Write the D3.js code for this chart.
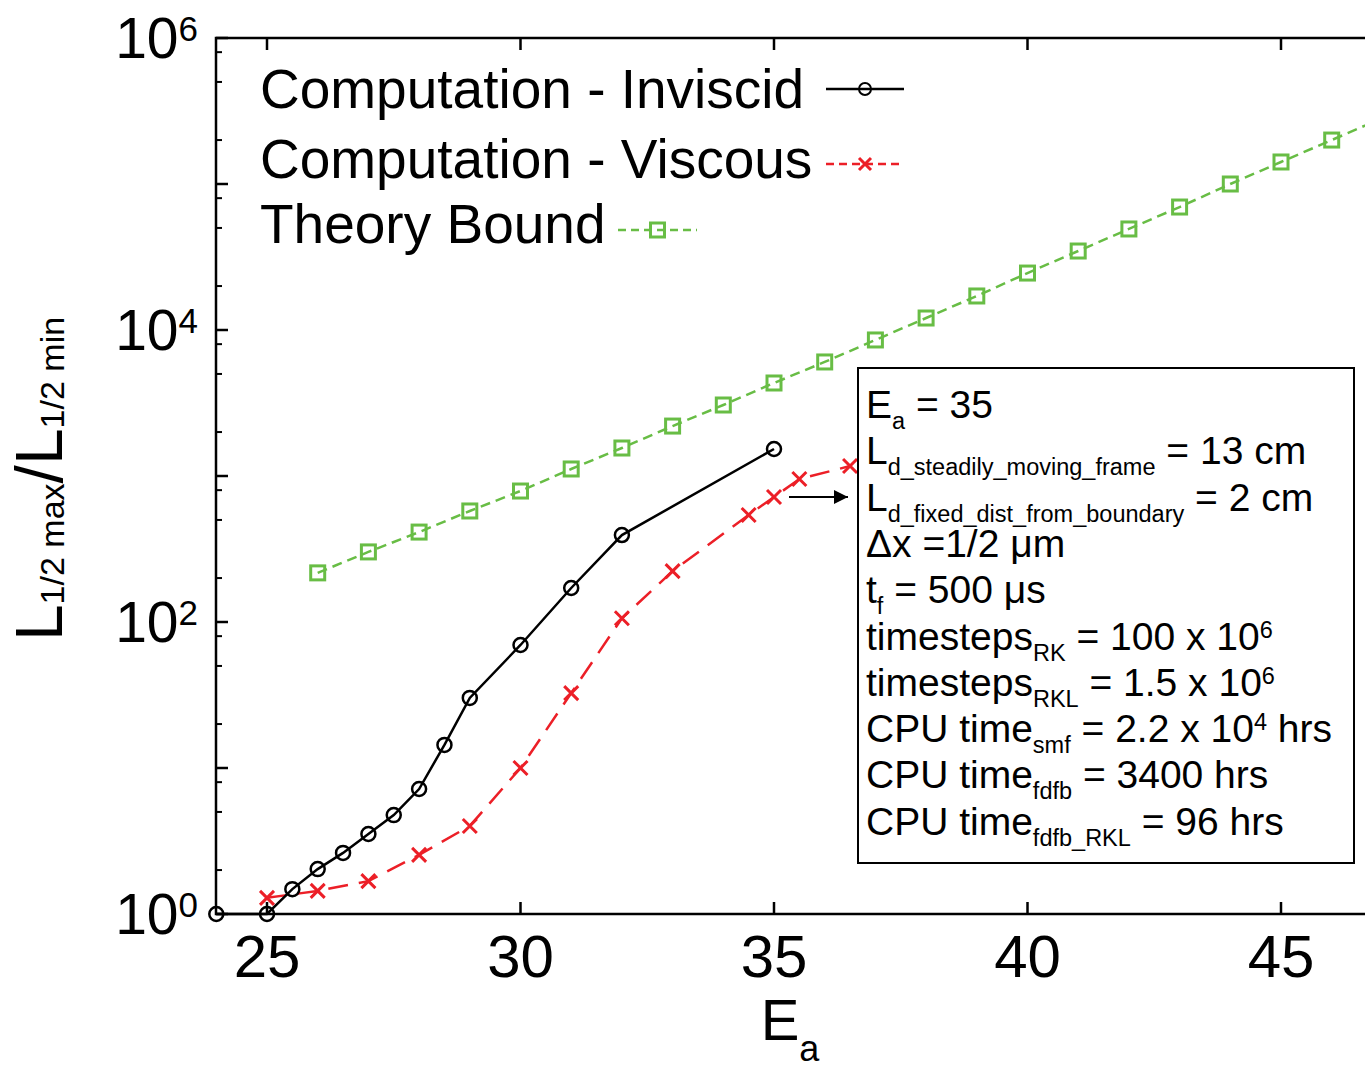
<!DOCTYPE html>
<html><head><meta charset="utf-8">
<script src="https://cdn.jsdelivr.net/npm/d3@7"></script>
<style>
body{margin:0;background:#fff}
svg{display:block}
text{font-family:"Liberation Sans",Arial,Helvetica,sans-serif;white-space:pre;fill:#000}
</style>
</head><body><svg id="c" width="1365" height="1068"></svg>
<script>
// ---------------- data ----------------
const xTickValues = [25, 30, 35, 40, 45];
const yLabelExponents = [0, 2, 4, 6];
const yMajorExponents = [0, 1, 2, 3, 4, 5, 6];
const yMinorMantissas = [2, 5, 8];

const inviscidE     = [24, 25, 25.5, 26, 26.5, 27, 27.5, 28, 28.5, 29, 30, 31, 32, 35];
const inviscidRatio = [1, 1, 1.48, 2.03, 2.62, 3.53, 4.76, 7.18, 14.4, 30.2, 69.6, 171, 394, 1531];

const viscousE      = [25, 26, 27, 28, 29, 30, 31, 32, 33, 34.5, 35, 35.5, 36.5];
const viscousRatio  = [1.29, 1.44, 1.68, 2.54, 4.01, 10, 32.6, 106, 223, 541, 718, 953, 1170];

const theoryE       = [26, 27, 28, 29, 30, 31, 32, 33, 34, 35, 36, 37, 38, 39, 40, 41, 42, 43, 44, 45, 46, 47];
const theoryRatio   = [217, 302, 413, 576, 789, 1117, 1555, 2198, 3064, 4335, 6040, 8545, 12080, 17100,
                       24550, 34750, 49200, 69550, 100000, 141500, 200000, 283000];

const seriesNames = ["Computation - Inviscid", "Computation - Viscous", "Theory Bound"];

const infoLines = [
  [["E", ""], ["a", "sub"], [" = 35", ""]],
  [["L", ""], ["d_steadily_moving_frame", "sub"], [" = 13 cm", ""]],
  [["L", ""], ["d_fixed_dist_from_boundary", "sub"], [" = 2 cm", ""]],
  [["\u0394x =1/2 \u03bcm", ""]],
  [["t", ""], ["f", "sub"], [" = 500 \u03bcs", ""]],
  [["timesteps", ""], ["RK", "sub"], [" = 100 x 10", ""], ["6", "sup"]],
  [["timesteps", ""], ["RKL", "sub"], [" = 1.5 x 10", ""], ["6", "sup"]],
  [["CPU time", ""], ["smf", "sub"], [" = 2.2 x 10", ""], ["4", "sup"], [" hrs", ""]],
  [["CPU time", ""], ["fdfb", "sub"], [" = 3400 hrs", ""]],
  [["CPU time", ""], ["fdfb_RKL", "sub"], [" = 96 hrs", ""]]
];

// ---------------- helpers ----------------
function richText(t, parts, sizes, shifts) {
  let cur = 0;
  parts.forEach(([txt, mode]) => {
    const k = mode || "n";
    const ts = t.append("tspan").text(txt).attr("dy", shifts[k] - cur);
    if (sizes[k]) ts.attr("font-size", sizes[k]);
    cur = shifts[k];
  });
}

// ---------------- layout ----------------
const svg = d3.select("#c");
const pLeft = 216, pTop = 38, pBottom = 914, pRight = 1366;
const x = d3.scaleLinear().domain([24, 45]).range([216.3, 1281]);
const y = d3.scaleLog().domain([1, 1e6]).range([pBottom, pTop]);

const RED = "#ec1f27", GREEN = "#68bd45";

const defs = svg.append("defs");
defs.append("clipPath").attr("id", "plotclip")
  .append("rect").attr("x", pLeft - 10).attr("y", pTop).attr("width", pRight - pLeft + 10).attr("height", pBottom - pTop + 10);

// ---------------- axes ----------------
const axes = svg.append("g").attr("stroke", "#000").attr("stroke-width", 2.5).attr("fill", "none");
axes.append("path").attr("d", `M${pRight},${pTop}H${pLeft}V${pBottom}H${pRight}`);

xTickValues.forEach(v => {
  axes.append("line").attr("x1", x(v)).attr("x2", x(v)).attr("y1", pBottom).attr("y2", pBottom - 12);
  axes.append("line").attr("x1", x(v)).attr("x2", x(v)).attr("y1", pTop).attr("y2", pTop + 12);
});
yMajorExponents.forEach(e => {
  const yy = y(Math.pow(10, e));
  axes.append("line").attr("x1", pLeft).attr("x2", pLeft + 12).attr("y1", yy).attr("y2", yy);
  if (e < 6) yMinorMantissas.forEach(m => {
    const ym = y(m * Math.pow(10, e));
    axes.append("line").attr("x1", pLeft).attr("x2", pLeft + 6).attr("y1", ym).attr("y2", ym)
      .attr("stroke-width", 2);
  });
});

svg.append("g").selectAll("text").data(xTickValues).join("text")
  .attr("x", d => x(d)).attr("y", 977).attr("text-anchor", "middle")
  .attr("font-size", 60).text(d => d);

yLabelExponents.forEach(e => {
  const yy = y(Math.pow(10, e));
  const t = svg.append("text").attr("x", 198).attr("y", yy + 20).attr("text-anchor", "end").attr("font-size", 57);
  richText(t, [["10", ""], [String(e), "sup"]], {sup: 35}, {n: 0, sup: -17});
});

{
  const t = svg.append("text").attr("x", 790).attr("y", 1040).attr("text-anchor", "middle").attr("font-size", 58);
  richText(t, [["E", ""], ["a", "sub"]], {sub: 36}, {n: 0, sub: 21});
}
{
  const t = svg.append("text").attr("transform", "translate(62,479) rotate(-90)")
    .attr("text-anchor", "middle").attr("font-size", 66);
  richText(t, [["L", ""], ["1/2 max", "sub"], ["/L", ""], ["1/2 min", "sub"]], {sub: 34}, {n: 0, sub: 2});
}

// ---------------- series ----------------
const line = d3.line().x(d => x(d[0])).y(d => y(d[1]));
const inv = inviscidE.map((e, i) => [e, inviscidRatio[i]]);
const vis = viscousE.map((e, i) => [e, viscousRatio[i]]);
const the = theoryE.map((e, i) => [e, theoryRatio[i]]);

const plot = svg.append("g").attr("clip-path", "url(#plotclip)");

plot.append("path").attr("d", line(the)).attr("fill", "none").attr("stroke", GREEN)
  .attr("stroke-width", 2.5).attr("stroke-dasharray", "10,6");
plot.append("path").attr("d", line(vis)).attr("fill", "none").attr("stroke", RED)
  .attr("stroke-width", 2.5).attr("stroke-dasharray", "20,11");
plot.append("path").attr("d", line(inv)).attr("fill", "none").attr("stroke", "#000")
  .attr("stroke-width", 2.5);

function square(g, cx, cy, h, col, sw) {
  g.append("rect").attr("x", cx - h).attr("y", cy - h).attr("width", 2 * h).attr("height", 2 * h)
    .attr("fill", "none").attr("stroke", col).attr("stroke-width", sw);
}
function cross(g, cx, cy, h, col, sw) {
  g.append("path").attr("d", `M${cx - h},${cy - h}L${cx + h},${cy + h}M${cx - h},${cy + h}L${cx + h},${cy - h}`)
    .attr("stroke", col).attr("stroke-width", sw).attr("fill", "none");
}
function circ(g, cx, cy, r, sw) {
  g.append("circle").attr("cx", cx).attr("cy", cy).attr("r", r)
    .attr("fill", "none").attr("stroke", "#000").attr("stroke-width", sw);
}
the.forEach(d => { if (x(d[0]) < pRight) square(plot, x(d[0]), y(d[1]), 7, GREEN, 3); });
vis.forEach(d => cross(svg, x(d[0]), y(d[1]), 7, RED, 3));
inv.forEach(d => circ(svg, x(d[0]), y(d[1]), 7, 2.5));

// ---------------- legend ----------------
const legRows = [
  {name: seriesNames[0], base: 108, ly: 89, x0: 826, x1: 904, kind: "inv"},
  {name: seriesNames[1], base: 178, ly: 164, x0: 826, x1: 904, kind: "vis"},
  {name: seriesNames[2], base: 243, ly: 230, x0: 618, x1: 697, kind: "the"}
];
legRows.forEach(r => {
  svg.append("text").attr("x", 260).attr("y", r.base).attr("font-size", 55).text(r.name);
  const mid = (r.x0 + r.x1) / 2;
  if (r.kind === "inv") {
    svg.append("line").attr("x1", r.x0).attr("x2", r.x1).attr("y1", r.ly).attr("y2", r.ly)
      .attr("stroke", "#000").attr("stroke-width", 2.5);
    circ(svg, mid, r.ly, 6, 2);
  } else if (r.kind === "vis") {
    svg.append("line").attr("x1", r.x0).attr("x2", r.x1).attr("y1", r.ly).attr("y2", r.ly)
      .attr("stroke", RED).attr("stroke-width", 2.5).attr("stroke-dasharray", "8,5");
    cross(svg, mid, r.ly, 6, RED, 3);
  } else {
    svg.append("line").attr("x1", r.x0).attr("x2", r.x1).attr("y1", r.ly).attr("y2", r.ly)
      .attr("stroke", GREEN).attr("stroke-width", 2.5).attr("stroke-dasharray", "8,5");
    square(svg, mid, r.ly, 7, GREEN, 3);
  }
});

// ---------------- arrow ----------------
defs.append("marker").attr("id", "ah").attr("viewBox", "0 0 10 10")
  .attr("refX", 10).attr("refY", 5).attr("markerWidth", 16).attr("markerHeight", 14)
  .attr("markerUnits", "userSpaceOnUse").attr("orient", "auto")
  .append("path").attr("d", "M0,0L10,5L0,10Z").attr("fill", "#000");
const boxX = 858, boxY = 368, boxW = 496, boxH = 495;
{
  const yy = y(viscousRatio[viscousE.indexOf(35)]);
  svg.append("line").attr("x1", x(35) + 15).attr("x2", boxX - 10).attr("y1", yy).attr("y2", yy)
    .attr("stroke", "#000").attr("stroke-width", 2).attr("marker-end", "url(#ah)");
}

// ---------------- info box ----------------
svg.append("rect").attr("x", boxX).attr("y", boxY).attr("width", boxW).attr("height", boxH)
  .attr("fill", "#fff").attr("stroke", "#000").attr("stroke-width", 2);
infoLines.forEach((parts, i) => {
  const base = 418 + i * 46.3;
  const t = svg.append("text").attr("x", 866).attr("y", base).attr("font-size", 39);
  richText(t, parts, {sub: 23.5, sup: 23.5}, {n: 0, sub: 11, sup: -12});
});
</script>
</body></html>
